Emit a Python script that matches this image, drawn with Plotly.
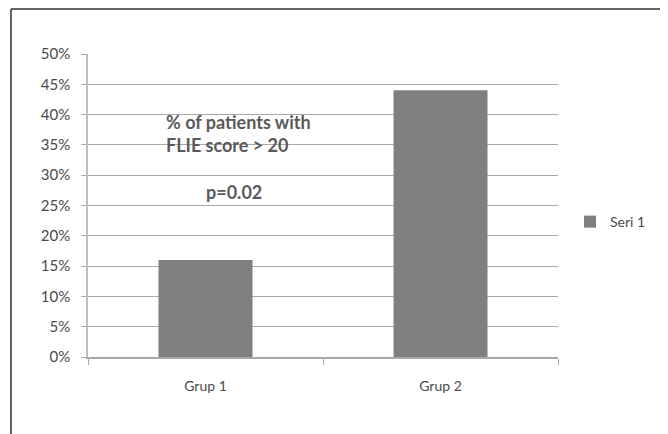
import plotly.graph_objects as go

categories = ["Grup 1", "Grup 2"]
values = [0.16, 0.44]
series_name = "Seri 1"
tick_vals = [0, 0.05, 0.10, 0.15, 0.20, 0.25, 0.30, 0.35, 0.40, 0.45, 0.50]

# page has an 8px body margin; figure coords = page coords - 8
W, H = 660, 426
L, R, T, B = 80, 110, 46, 77
pw, ph = W - L - R, H - T - B

def px(x):
    return (x - 8 - L) / pw

def py(y):
    return (H - B - (y - 8)) / ph

font_fam = "Lato, Open Sans, sans-serif"
txt = "#4a4a4a"

fig = go.Figure()
fig.add_trace(go.Bar(x=categories, y=values, name=series_name,
                     marker=dict(color="#7f7f80", line=dict(width=0)),
                     showlegend=True))

fig.update_layout(
    width=W, height=H,
    margin=dict(l=L, r=R, t=T, b=B),
    paper_bgcolor="white", plot_bgcolor="white",
    bargap=0.6,
    font=dict(family=font_fam, size=15, color=txt),
    showlegend=True,
    legend=dict(x=px(570), y=py(222), xanchor="left", yanchor="middle",
                font=dict(size=14, color=txt), bgcolor="rgba(0,0,0,0)",
                itemwidth=30),
    xaxis=dict(showline=True, linecolor="#a8a8a8", linewidth=1.5,
               ticks="outside", ticklen=6, tickcolor="#a8a8a8",
               tickson="boundaries", showgrid=False,
               tickfont=dict(size=14, color=txt), ticklabelstandoff=15),
    yaxis=dict(range=[0, 0.5], tickvals=tick_vals, tickformat=".0%",
               showline=True, linecolor="#bdbdbd", linewidth=1.5,
               ticks="outside", ticklen=5, tickcolor="#a8a8a8",
               showgrid=True, gridcolor="#a8a8a8", gridwidth=1.2,
               zeroline=False, tickfont=dict(size=15, color=txt),
               ticklabelstandoff=8),
)

fig.add_annotation(xref="paper", yref="paper", x=px(164), y=py(134),
                   xanchor="left", yanchor="middle", align="left", showarrow=False,
                   text="<b>% of patients with<br>FLIE score &gt; 20</b>",
                   font=dict(size=18, color="#5a5a5a", family=font_fam))
fig.add_annotation(xref="paper", yref="paper", x=px(204), y=py(192),
                   xanchor="left", yanchor="middle", showarrow=False,
                   text="<b>p=0.02</b>",
                   font=dict(size=18, color="#5a5a5a", family=font_fam))

# outer frame (left and top edges)
fig.add_shape(type="line", xref="paper", yref="paper",
              x0=px(11), x1=px(11), y0=py(434), y1=py(9),
              line=dict(color="#333333", width=1.5))
fig.add_shape(type="line", xref="paper", yref="paper",
              x0=px(11), x1=px(668), y0=py(9), y1=py(9),
              line=dict(color="#333333", width=1.5))

fig.write_html("out.html")
